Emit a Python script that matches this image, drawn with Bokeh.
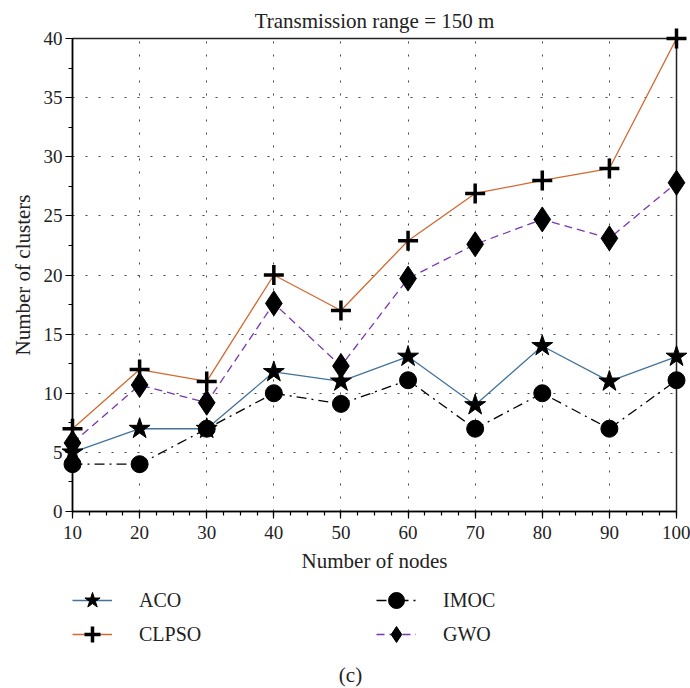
from bokeh.plotting import figure
from bokeh.layouts import column
from bokeh.models import (SingleIntervalTicker, Range1d, Legend, LegendItem, Label)
from bokeh.embed import file_html
from bokeh.resources import INLINE

nodes = [10, 20, 30, 40, 50, 60, 70, 80, 90, 100]
aco = [5, 7, 7, 11.8, 11, 13.1, 9, 14, 11, 13.1]
clpso = [7, 12, 11, 20, 17, 22.9, 26.9, 28, 29, 40]
imoc = [4, 4, 7, 10, 9.1, 11.1, 7, 10, 7, 11.1]
gwo = [5.8, 10.7, 9.2, 17.6, 12.3, 19.7, 22.6, 24.7, 23.1, 27.8]
series_names = ["ACO", "CLPSO", "IMOC", "GWO"]

FONT = "Liberation Serif"
TXT = "#222222"
styles = {
    "ACO": dict(color="#41739c", dash="solid", marker="star", size=22, lw=0),
    "CLPSO": dict(color="#d2692f", dash="solid", marker="cross", size=20, lw=3.5),
    "IMOC": dict(color="black", dash="10 5 2 5", marker="circle", size=17, lw=0),
    "GWO": dict(color="#7a35b0", dash="8 5", marker="diamond", size=25, lw=0),
}
data = {"ACO": aco, "CLPSO": clpso, "IMOC": imoc, "GWO": gwo}

p = figure(width=690, height=575, output_backend="svg", toolbar_location=None,
           x_range=Range1d(10, 100), y_range=Range1d(0, 40),
           min_border_left=72, min_border_right=14, min_border_top=38,
           min_border_bottom=63)

p.title.text = "Transmission range = 150 m"
p.title.align = "center"
p.title.text_font = FONT
p.title.text_font_size = "21px"
p.title.text_font_style = "normal"
p.title.text_color = TXT
p.title.standoff = 12

p.background_fill_color = "white"
p.border_fill_color = "white"
p.outline_line_color = "#222222"
p.outline_line_width = 1.5

for ax in (p.xaxis[0], p.yaxis[0]):
    ax.major_label_text_font = FONT
    ax.major_label_text_font_size = "19px"
    ax.axis_label_text_font = FONT
    ax.axis_label_text_font_size = "21px"
    ax.axis_label_text_font_style = "normal"
    ax.axis_line_color = "black"
    ax.axis_line_width = 1.5
    ax.major_tick_in = 0
    ax.major_tick_out = 7
    ax.minor_tick_in = 0
    ax.minor_tick_out = 4
    ax.major_tick_line_color = "black"
    ax.minor_tick_line_color = "black"
    ax.major_tick_line_width = 1.2
    ax.minor_tick_line_width = 1.2
    ax.major_label_text_color = TXT
    ax.axis_label_text_color = TXT

p.xaxis[0].ticker = SingleIntervalTicker(interval=10, num_minor_ticks=4)
p.yaxis[0].ticker = SingleIntervalTicker(interval=5, num_minor_ticks=2)
p.xaxis.axis_label = "Number of nodes"
p.yaxis.axis_label = "Number of clusters"
p.xaxis.major_label_standoff = 7
p.yaxis.major_label_standoff = 3
p.xaxis.axis_label_standoff = 7
p.yaxis.axis_label_standoff = 6

for g in (p.xgrid[0], p.ygrid[0]):
    g.grid_line_color = "#444444"
    g.grid_line_dash = "2 11"
    g.grid_line_width = 1

for name in series_names:
    st = styles[name]
    p.line(nodes, data[name], line_color=st["color"], line_width=1.3, line_dash=st["dash"])
for name in series_names:
    st = styles[name]
    p.scatter(nodes, data[name], marker=st["marker"], size=st["size"],
              fill_color="black", line_color="black", line_width=st["lw"] or 1,
              level="overlay")

# legend panel underneath (renderers kept out of view); its frame aligns with p's frame
p2 = figure(width=690, height=113, output_backend="svg", toolbar_location=None,
            x_range=Range1d(0, 604), y_range=Range1d(0, 113),
            x_axis_type=None, y_axis_type=None,
            min_border_left=72, min_border_right=14, min_border_top=0, min_border_bottom=0)
p2.extra_x_ranges = {"off": Range1d(1000, 2000)}
p2.outline_line_color = None
p2.background_fill_color = "white"
p2.border_fill_color = "white"
p2.grid.visible = False

items = {}
for name in series_names:
    st = styles[name]
    ln = p2.line(nodes, data[name], line_color=st["color"], line_width=1.5,
                 line_dash=st["dash"], x_range_name="off")
    sc = p2.scatter(nodes, data[name], marker=st["marker"], size=st["size"],
                    fill_color="black", line_color="black", line_width=st["lw"] or 1,
                    x_range_name="off")
    items[name] = LegendItem(label=name, renderers=[ln, sc])

def make_legend(its, loc):
    lg = Legend(items=its, orientation="horizontal", location=loc)
    lg.label_text_font = FONT
    lg.label_text_font_size = "20px"
    lg.label_text_color = TXT
    lg.glyph_width = 40
    lg.glyph_height = 40
    lg.label_standoff = 27
    lg.label_width = 237
    lg.label_height = 40
    lg.spacing = 0
    lg.padding = 0
    lg.margin = 0
    lg.border_line_color = None
    lg.background_fill_alpha = 0
    return lg

p2.add_layout(make_legend([items["ACO"], items["IMOC"]], (0, 68)), "center")
p2.add_layout(make_legend([items["CLPSO"], items["GWO"]], (0, 34)), "center")

p2.add_layout(Label(x=278, y=14, text="(c)", text_align="center",
                    text_baseline="middle", text_font=FONT,
                    text_font_size="21px", text_color=TXT))

layout = column(p, p2, spacing=0)
open("out.html", "w").write(file_html(layout, INLINE))
